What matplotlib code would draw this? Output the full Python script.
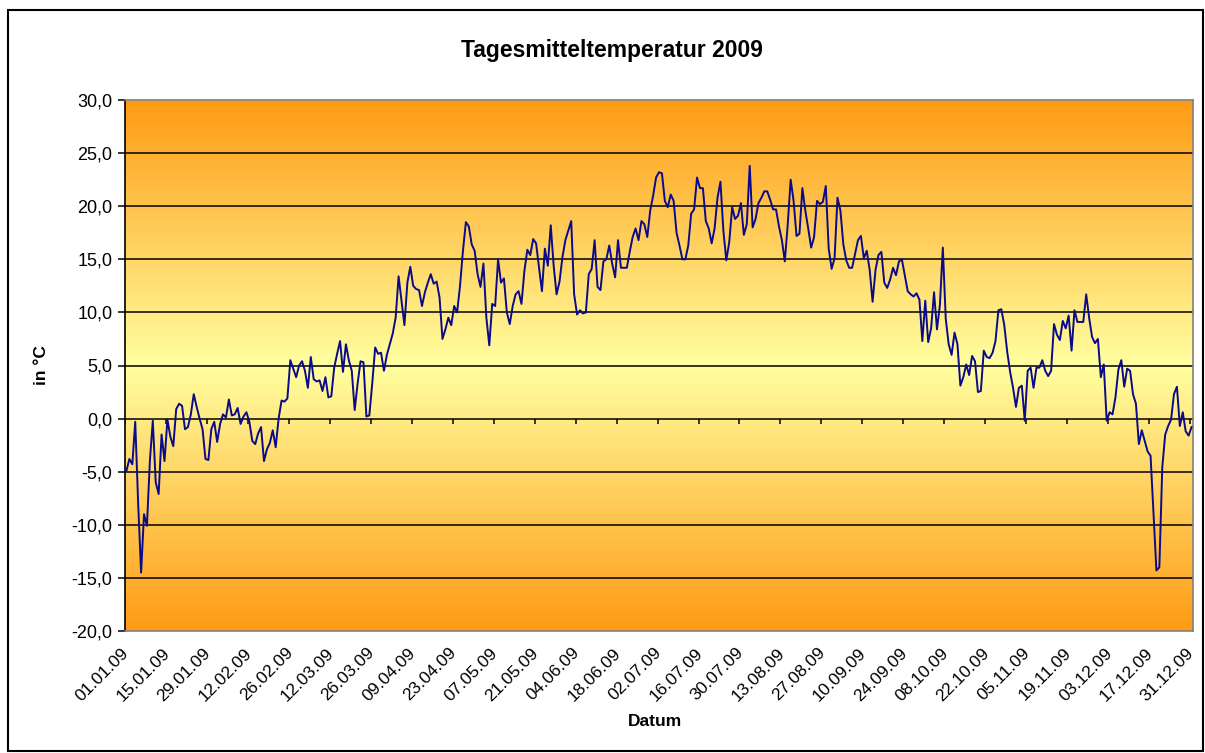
import numpy as np
import matplotlib
matplotlib.use("Agg")
import matplotlib.pyplot as plt
from matplotlib.colors import LinearSegmentedColormap
from matplotlib.patches import Rectangle

plt.rcParams['font.family'] = ['Liberation Sans', 'DejaVu Sans']

title = "Tagesmitteltemperatur 2009"
x_label = "Datum"
y_label = "in °C"

temps = [
    -4.9, -3.8, -4.3, -0.3, -8.0, -14.5, -9.0, -10.1, -4.0, -0.2,
    -6.0, -7.1, -1.5, -4.0, -0.1, -1.7, -2.6, 0.9, 1.4, 1.2,
    -1.0, -0.8, 0.4, 2.3, 1.1, 0.0, -1.0, -3.8, -3.9, -1.0,
    -0.3, -2.2, -0.5, 0.4, 0.1, 1.8, 0.3, 0.4, 1.0, -0.5,
    0.2, 0.6, -0.3, -2.1, -2.4, -1.4, -0.8, -4.0, -2.9, -2.3,
    -1.1, -2.7, 0.0, 1.7, 1.6, 1.9, 5.5, 4.7, 3.9, 5.0,
    5.4, 4.5, 2.9, 5.8, 3.7, 3.5, 3.6, 2.6, 3.9, 2.0,
    2.1, 4.8, 6.1, 7.3, 4.4, 7.0, 5.5, 4.5, 0.8, 3.3,
    5.4, 5.3, 0.2, 0.3, 3.3, 6.7, 6.1, 6.2, 4.5, 6.0,
    7.0, 8.0, 9.5, 13.4, 11.1, 8.8, 12.8, 14.3, 12.5, 12.2,
    12.1, 10.6, 11.9, 12.8, 13.6, 12.7, 12.9, 11.4, 7.5, 8.4,
    9.5, 8.8, 10.6, 10.0, 12.5, 15.8, 18.5, 18.1, 16.4, 15.8,
    13.6, 12.4, 14.6, 9.5, 6.9, 10.8, 10.6, 15.0, 12.8, 13.2,
    10.0, 8.9, 10.6, 11.7, 12.0, 10.8, 13.9, 15.9, 15.4, 16.9,
    16.5, 14.2, 12.0, 16.0, 14.4, 18.2, 14.4, 11.7, 12.9, 15.2,
    16.8, 17.7, 18.6, 11.7, 9.8, 10.2, 9.9, 10.0, 13.6, 14.1,
    16.8, 12.4, 12.1, 14.8, 15.0, 16.3, 14.6, 13.3, 16.8, 14.2,
    14.2, 14.2, 15.7, 17.1, 17.9, 16.8, 18.6, 18.3, 17.1, 19.6,
    21.0, 22.7, 23.2, 23.1, 20.5, 19.9, 21.1, 20.5, 17.5, 16.3,
    15.0, 15.0, 16.3, 19.3, 19.7, 22.7, 21.7, 21.7, 18.6, 17.9,
    16.5, 17.9, 20.8, 22.3, 17.7, 14.9, 16.6, 19.9, 18.8, 19.1,
    20.3, 17.3, 18.3, 23.8, 18.0, 18.8, 20.3, 20.8, 21.4, 21.4,
    20.6, 19.7, 19.7, 18.1, 16.8, 14.8, 18.3, 22.5, 20.5, 17.2,
    17.4, 21.7, 19.6, 17.9, 16.1, 17.1, 20.5, 20.2, 20.4, 21.9,
    16.0, 14.1, 15.1, 20.8, 19.6, 16.4, 14.9, 14.2, 14.2, 15.5,
    16.8, 17.2, 15.1, 15.8, 14.0, 11.0, 14.0, 15.4, 15.7, 12.8,
    12.3, 13.1, 14.2, 13.5, 14.8, 15.0, 13.5, 12.0, 11.7, 11.5,
    11.8, 11.2, 7.3, 11.1, 7.2, 8.5, 11.9, 8.4, 10.7, 16.1,
    9.4, 7.0, 6.0, 8.1, 7.0, 3.1, 3.9, 5.1, 4.1, 5.9,
    5.4, 2.5, 2.6, 6.4, 5.8, 5.7, 6.2, 7.3, 10.2, 10.3,
    8.8, 6.3, 4.4, 2.9, 1.1, 2.9, 3.1, -0.2, 4.5, 4.8,
    2.9, 4.8, 4.8, 5.5, 4.5, 4.0, 4.5, 8.9, 7.9, 7.4,
    9.2, 8.5, 9.7, 6.4, 10.2, 9.1, 9.1, 9.1, 11.7, 9.5,
    7.7, 7.1, 7.5, 3.9, 5.1, -0.2, 0.6, 0.4, 2.0, 4.6,
    5.5, 3.0, 4.7, 4.5, 2.3, 1.4, -2.4, -1.1, -2.1, -3.1,
    -3.5, -9.0, -14.3, -14.0, -4.6, -1.5, -0.7, -0.1, 2.3, 3.0,
    -0.7, 0.6, -1.2, -1.6, -0.8,
]

tick_labels = [
    "01.01.09", "15.01.09", "29.01.09", "12.02.09", "26.02.09", "12.03.09",
    "26.03.09", "09.04.09", "23.04.09", "07.05.09", "21.05.09", "04.06.09",
    "18.06.09", "02.07.09", "16.07.09", "30.07.09", "13.08.09", "27.08.09",
    "10.09.09", "24.09.09", "08.10.09", "22.10.09", "05.11.09", "19.11.09",
    "03.12.09", "17.12.09", "31.12.09",
]
y_ticks = [-20, -15, -10, -5, 0, 5, 10, 15, 20, 25, 30]

n = len(temps)
x = np.arange(n)

fig = plt.figure(figsize=(12.05, 7.53), dpi=100)
fig.patch.set_facecolor("white")
ax = fig.add_axes([125 / 1205, (753 - 631) / 753, (1193 - 125) / 1205, (631 - 100) / 753])

# background gradient: orange - pale yellow - orange
orange = np.array([255, 155, 20]) / 255
yellow = np.array([255, 255, 160]) / 255
cmap = LinearSegmentedColormap.from_list("grad", [orange, yellow, orange])
grad = np.linspace(0, 1, 512).reshape(-1, 1)
ax.imshow(grad, aspect="auto", cmap=cmap, extent=[-0.5, n - 0.5, -20, 30],
          origin="upper", zorder=0, interpolation="bicubic")

for yv in y_ticks[1:-1]:
    ax.axhline(yv, color="black", lw=1.1, zorder=1)

ax.plot(x, temps, color="#0a0a8a", lw=1.4, zorder=3)

# category tick marks hanging below the 0 line
ax.vlines(np.arange(0, n + 1, 14) - 0.5, -0.55, 0, color="black", lw=1.1, zorder=2)

ax.set_xlim(-0.5, n - 0.5)
ax.set_ylim(-20, 30)
ax.set_yticks(y_ticks)
ax.set_yticklabels([f"{v:.1f}".replace(".", ",") for v in y_ticks], fontsize=13)
ax.set_xticks(np.arange(0, n, 14))
ax.set_xticklabels(tick_labels, rotation=45, ha="right", va="center",
                   rotation_mode="anchor", fontsize=12.5)
ax.tick_params(axis="x", length=0, pad=14)
ax.tick_params(axis="y", length=5, width=1.1, color="black", direction="out", pad=4)

for s in ["top", "right", "bottom"]:
    ax.spines[s].set_color("#808080")
    ax.spines[s].set_linewidth(1.2)
ax.spines["left"].set_color("black")
ax.spines["left"].set_linewidth(1.2)

fig.text(612 / 1205, 1 - 51 / 753, title, ha="center", va="center", fontsize=16.5, fontweight="bold")
fig.text(655 / 1205, 1 - 722 / 753, x_label, ha="center", va="center", fontsize=12.5, fontweight="bold")
fig.text(41 / 1205, 1 - 365 / 753, y_label, ha="center", va="center", fontsize=12.5,
         fontweight="bold", rotation=90)

fig.patches.append(Rectangle((8 / 1205, 2 / 753), 1195 / 1205, 741 / 753, transform=fig.transFigure,
                             fill=False, edgecolor="black", lw=1.5, zorder=10))

fig.savefig("out.png", dpi=100)
